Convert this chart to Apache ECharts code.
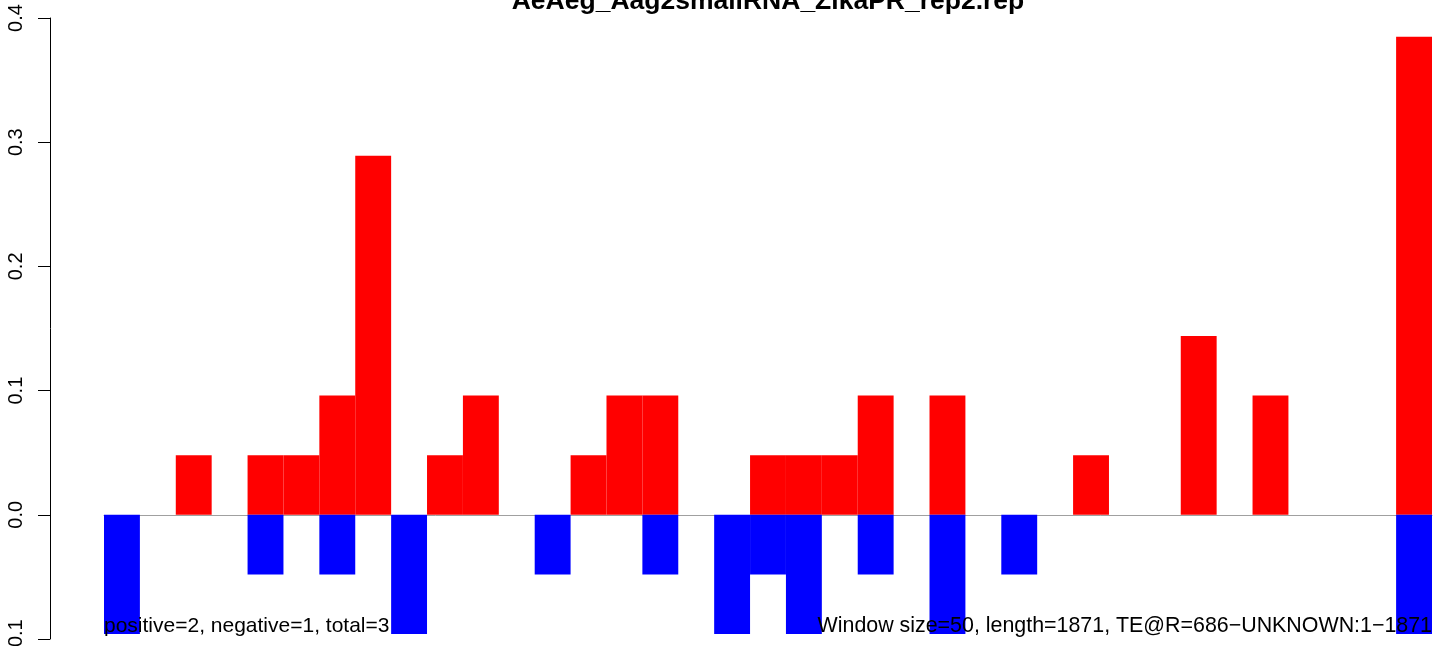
<!DOCTYPE html>
<html>
<head>
<meta charset="utf-8">
<script src="https://cdn.jsdelivr.net/npm/echarts@6/dist/echarts.min.js"></script>
<style>html,body{margin:0;padding:0;background:#fff}#c{width:1449px;height:646px}</style>
</head>
<body>
<div id="c"></div>
<script>
const titleText = "AeAeg_Aag2smallRNA_ZikaPR_rep2.rep";
const leftNote = "positive=2, negative=1, total=3";
const rightNote = "Window size=50, length=1871, TE@R=686\u2212UNKNOWN:1\u22121871";
const windows = Array.from({length: 37}, (_, i) => String(i + 1));
const positive = [0,0,0.048,0,0.048,0.048,0.096,0.289,0,0.048,0.096,0,0,0.048,0.096,0.096,0,0,0.048,0.048,0.048,0.096,0,0.096,0,0,0,0.048,0,0,0.144,0,0.096,0,0,0,0.385];
const negative = [-0.096,0,0,0,-0.048,0,-0.048,0,-0.096,0,0,0,-0.048,0,0,-0.048,0,-0.096,-0.048,-0.096,0,-0.048,0,-0.096,0,-0.048,0,0,0,0,0,0,0,0,0,0,-0.096];
const yTicks = [-0.1, 0.0, 0.1, 0.2, 0.3, 0.4];

const FONT = '"Liberation Sans", Arial, Helvetica, sans-serif';
const chart = echarts.init(document.getElementById('c'), null, {renderer: 'canvas'});
chart.setOption({
  animation: false,
  backgroundColor: '#ffffff',
  grid: {left: 104, right: 17, top: 18, bottom: 7, containLabel: false, outerBoundsMode: 'none'},
  xAxis: {
    type: 'category', data: windows, boundaryGap: true,
    axisLine: {show: true, onZero: true, lineStyle: {color: '#a0a0a0', width: 1}},
    axisTick: {show: false}, axisLabel: {show: false}, splitLine: {show: false}
  },
  yAxis: {
    type: 'value', min: yTicks[0], max: yTicks[yTicks.length - 1], interval: 0.1,
    offset: 54,
    axisLine: {show: true, lineStyle: {color: '#000', width: 1}},
    axisTick: {show: true, length: 12, lineStyle: {color: '#000'}},
    splitLine: {show: false},
    axisLabel: {
      rotate: 90, margin: 24, color: '#000', fontSize: 20, fontFamily: FONT,
      hideOverlap: false, showMinLabel: true, showMaxLabel: true,
      formatter: v => v.toFixed(1).replace('-', '\u2212')
    }
  },
  series: [
    {type: 'bar', data: positive, barWidth: '100%', barGap: '-100%', itemStyle: {color: '#ff0000'}, z: 2},
    {type: 'bar', data: negative, barWidth: '100%', barGap: '-100%', itemStyle: {color: '#0000ff'}, z: 2}
  ],
  graphic: [
    {type: 'text', z: 100, style: {text: titleText, x: 768, y: 2, font: 'bold 26.5px ' + FONT, fill: '#000', textAlign: 'center', textVerticalAlign: 'middle'}},
    {type: 'text', z: 100, style: {text: leftNote, x: 104, y: 626, font: '21px ' + FONT, fill: '#000', textAlign: 'left', textVerticalAlign: 'middle'}},
    {type: 'text', z: 100, style: {text: rightNote, x: 1432, y: 626, font: '21.4px ' + FONT, fill: '#000', textAlign: 'right', textVerticalAlign: 'middle'}}
  ]
});
</script>
</body>
</html>
